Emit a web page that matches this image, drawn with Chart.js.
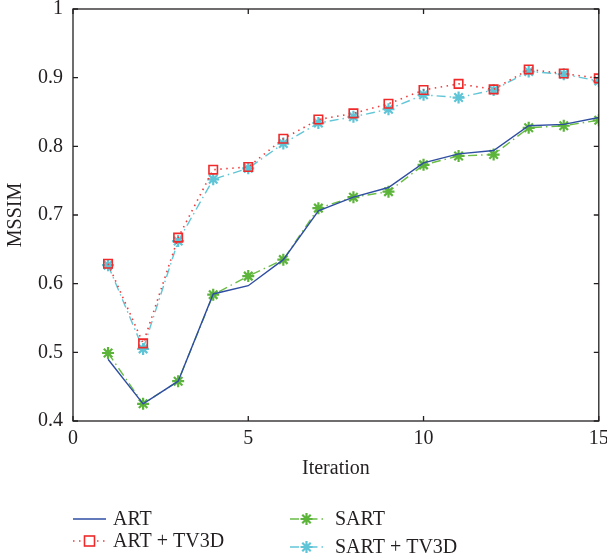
<!DOCTYPE html>
<html>
<head>
<meta charset="utf-8">
<script src="https://cdn.jsdelivr.net/npm/chart.js@4"></script>
<style>
  html, body { margin: 0; padding: 0; background: #fff; }
  canvas { display: block; }
</style>
</head>
<body>
<canvas id="grafico" width="607" height="560"></canvas>
<script>
const iteraciones = [1,2,3,4,5,6,7,8,9,10,11,12,13,14,15];
const art      = [0.490,0.425,0.458,0.585,0.597,0.635,0.706,0.726,0.740,0.776,0.789,0.794,0.830,0.832,0.842];
const artTv3d  = [0.629,0.513,0.667,0.766,0.770,0.811,0.839,0.848,0.862,0.882,0.891,0.883,0.912,0.906,0.899];
const sart     = [0.499,0.425,0.458,0.584,0.611,0.635,0.710,0.726,0.734,0.773,0.786,0.788,0.827,0.830,0.838];
const sartTv3d = [0.627,0.505,0.662,0.752,0.768,0.804,0.834,0.843,0.854,0.875,0.871,0.882,0.909,0.905,0.895];
const xTicks = [0,5,10,15];
const yTicks = [0.4,0.5,0.6,0.7,0.8,0.9,1];
const yTickLabels = ['0.4','0.5','0.6','0.7','0.8','0.9','1'];
const nombres = ['ART','ART + TV3D','SART','SART + TV3D'];

const fuente = '"Liberation Serif", "DejaVu Serif", serif';
const tinta = '#231f20';

function puntos(valores) {
    return iteraciones.map((x, i) => ({x: x, y: valores[i]}));
}

function sinRelleno(s) {
    s.paddingTop = 0; s.paddingBottom = 0; s.paddingLeft = 0; s.paddingRight = 0;
}

// marco con marcas hacia dentro, como en matlab
const marco = {
    id: 'marco',
    afterDraw(chart) {
        const {ctx, chartArea: a, scales} = chart;
        ctx.save();
        ctx.strokeStyle = tinta;
        ctx.lineWidth = 1.3;
        ctx.strokeRect(a.left, a.top, a.right - a.left, a.bottom - a.top);
        const t = 5;
        ctx.beginPath();
        scales.x.ticks.forEach(k => {
            const px = scales.x.getPixelForValue(k.value);
            ctx.moveTo(px, a.bottom); ctx.lineTo(px, a.bottom - t);
            ctx.moveTo(px, a.top); ctx.lineTo(px, a.top + t);
        });
        scales.y.ticks.forEach(k => {
            const py = scales.y.getPixelForValue(k.value);
            ctx.moveTo(a.left, py); ctx.lineTo(a.left + t, py);
            ctx.moveTo(a.right, py); ctx.lineTo(a.right - t, py);
        });
        ctx.stroke();
        ctx.restore();
    }
};

// leyenda en dos columnas debajo del grafico
const leyenda = {
    id: 'leyenda',
    afterDraw(chart) {
        const ctx = chart.ctx;
        const pos = [
            {x: 73, y: 519},
            {x: 73, y: 541},
            {x: 290, y: 519},
            {x: 290, y: 547}
        ];
        ctx.save();
        chart.data.datasets.forEach((ds, i) => {
            const p = pos[i];
            ctx.strokeStyle = ds.borderColor;
            ctx.lineWidth = ds.borderWidth;
            ctx.setLineDash(ds.borderDash || []);
            ctx.beginPath();
            ctx.moveTo(p.x, p.y);
            ctx.lineTo(p.x + 33, p.y);
            ctx.stroke();
            ctx.setLineDash([]);
            if (ds.pointRadius > 0) {
                ctx.strokeStyle = ds.pointBorderColor;
                ctx.fillStyle = ds.pointStyle === 'rect' ? '#fff' : ds.pointBackgroundColor;
                ctx.lineWidth = ds.pointBorderWidth;
                if (ds.pointStyle === 'rect') {
                    ctx.fillRect(p.x + 16.5 - 5, p.y - 5, 10, 10);
                    ctx.strokeRect(p.x + 16.5 - 5, p.y - 5, 10, 10);
                } else {
                    Chart.helpers.drawPoint(ctx, {
                        pointStyle: ds.pointStyle, radius: ds.pointRadius,
                        rotation: 0, borderWidth: ds.pointBorderWidth
                    }, p.x + 16.5, p.y);
                }
            }
            ctx.fillStyle = tinta;
            ctx.font = '20px ' + fuente;
            ctx.textBaseline = 'middle';
            ctx.fillText(ds.label, p.x + (i < 2 ? 40 : 45), p.y + 1);
        });
        ctx.restore();
    }
};

const ctx = document.getElementById('grafico').getContext('2d');
new Chart(ctx, {
    type: 'line',
    data: {
        datasets: [
            {label: nombres[0], data: puntos(art), borderColor: '#2f4ea3', borderWidth: 1.4, pointRadius: 0, fill: false, tension: 0},
            {label: nombres[1], data: puntos(artTv3d), borderColor: '#ee3b3b', borderWidth: 1.6, borderDash: [1.5, 4.5],
             pointStyle: 'rect', pointRadius: 6, pointBorderColor: '#ee2a2a', pointBackgroundColor: 'rgba(255,255,255,0)', pointBorderWidth: 1.6, fill: false, tension: 0},
            {label: nombres[2], data: puntos(sart), borderColor: '#6abd45', borderWidth: 1.4, borderDash: [9, 4, 1.5, 4],
             pointStyle: 'star', pointRadius: 6, pointBorderColor: '#5cb53a', pointBackgroundColor: '#5cb53a', pointBorderWidth: 2.2, fill: false, tension: 0},
            {label: nombres[3], data: puntos(sartTv3d), borderColor: '#62c6d6', borderWidth: 1.4, borderDash: [9, 4, 1.5, 4],
             pointStyle: 'star', pointRadius: 6, pointBorderColor: '#5ec4d6', pointBackgroundColor: '#5ec4d6', pointBorderWidth: 2.2, fill: false, tension: 0}
        ]
    },
    options: {
        responsive: false,
        animation: false,
        layout: {padding: {top: 9, right: 6, left: 0, bottom: 79}},
        plugins: {legend: {display: false}, tooltip: {enabled: false}},
        scales: {
            x: {
                type: 'linear', min: 0, max: 15,
                afterBuildTicks: s => { s.ticks = xTicks.map(v => ({value: v})); },
                afterFit: s => { s.height = 60; sinRelleno(s); },
                grid: {display: false, drawTicks: false},
                border: {display: false},
                ticks: {color: tinta, font: {family: fuente, size: 20}, padding: 6, maxRotation: 0},
                title: {display: true, text: 'Iteration', color: tinta, font: {family: fuente, size: 20}, padding: {top: 0, bottom: 0}}
            },
            y: {
                type: 'linear', min: 0.4, max: 1,
                afterBuildTicks: s => { s.ticks = yTicks.map(v => ({value: v})); },
                afterFit: s => { s.width = 73; sinRelleno(s); },
                grid: {display: false, drawTicks: false},
                border: {display: false},
                ticks: {
                    color: tinta, font: {family: fuente, size: 20}, padding: 10,
                    callback: (v) => yTickLabels[yTicks.indexOf(v)]
                },
                title: {display: true, text: 'MSSIM', color: tinta, font: {family: fuente, size: 20}, padding: {top: 4, bottom: 0}}
            }
        }
    },
    plugins: [marco, leyenda]
});
</script>
</body>
</html>
